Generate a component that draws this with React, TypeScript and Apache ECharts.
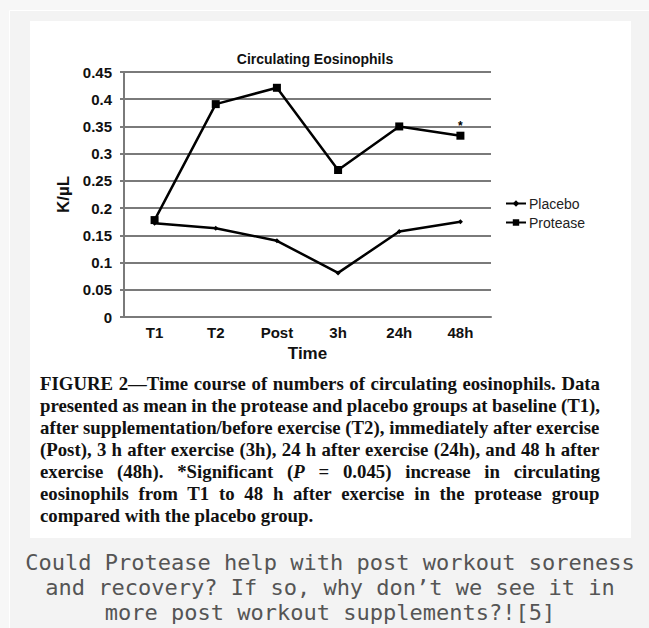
import React, { useEffect, useRef } from "react";
import * as echarts from "echarts";

const categories = ["T1", "T2", "Post", "3h", "24h", "48h"];
const placebo = [0.172, 0.163, 0.14, 0.081, 0.157, 0.175];
const protease = [0.178, 0.391, 0.421, 0.27, 0.35, 0.333];
const yTicks = { min: 0, max: 0.45, interval: 0.05 };

// "{i|...}" marks italic text
const figureLines = [
  "FIGURE 2\u2014Time course of numbers of circulating eosinophils. Data",
  "presented as mean in the protease and placebo groups at baseline (T1),",
  "after supplementation/before exercise (T2), immediately after exercise",
  "(Post), 3 h after exercise (3h), 24 h after exercise (24h), and 48 h after",
  "exercise (48h). *Significant ({i|P} = 0.045) increase in circulating",
  "eosinophils from T1 to 48 h after exercise in the protease group",
  "compared with the placebo group.",
];
const captionLines = [
  "Could Protease help with post workout soreness",
  "and recovery? If so, why don\u2019t we see it in",
  "more post workout supplements?![5]",
];

const FIG_FONT = "Liberation Serif";
const FIG_SIZE = 18.8;
const FIG_LEFT = 40;
const FIG_RIGHT = 600;
const FIG_TOP = 383;
const FIG_LH = 22;

function parseSegments(line: string) {
  const segs: { text: string; italic: boolean }[] = [];
  const re = /\{i\|([^}]*)\}/g;
  let last = 0;
  let m: RegExpExecArray | null;
  while ((m = re.exec(line))) {
    if (m.index > last) segs.push({ text: line.slice(last, m.index), italic: false });
    segs.push({ text: m[1], italic: true });
    last = m.index + m[0].length;
  }
  if (last < line.length) segs.push({ text: line.slice(last), italic: false });
  return segs;
}

export default function App() {
  const ref = useRef<HTMLDivElement>(null);
  useEffect(() => {
    if (!ref.current) return;
    const chart = echarts.init(ref.current, null, { renderer: "svg" });
    const labelFont = "Liberation Sans";

    const canvas = document.createElement("canvas");
    const ctx = canvas.getContext("2d")!;
    const fontStr = (italic: boolean) =>
      `${italic ? "italic " : ""}bold ${FIG_SIZE}px "${FIG_FONT}"`;
    const measure = (t: string, italic: boolean) => {
      ctx.font = fontStr(italic);
      return ctx.measureText(t).width;
    };

    const graphics: any[] = [
      {
        type: "rect",
        z: -10,
        shape: { x: 9.5, y: 10.5, width: 640, height: 620 },
        style: { fill: "#f3f3f3", stroke: "#ffffff", lineWidth: 1 },
        silent: true,
      },
      {
        type: "rect",
        z: -9,
        shape: { x: 30, y: 21, width: 601, height: 517 },
        style: { fill: "#ffffff" },
        silent: true,
      },
    ];

    const spacingMap = new Map<string, number>();
    figureLines.forEach((line, i) => {
      const segs = parseSegments(line);
      const isLast = i === figureLines.length - 1;
      const natural = segs.reduce((s, g) => s + measure(g.text, g.italic), 0);
      const nSpaces = (line.replace(/\{i\|/g, "").match(/ /g) || []).length;
      const ws = isLast || nSpaces === 0 ? 0 : (FIG_RIGHT - FIG_LEFT - natural) / nSpaces;
      let cursor = FIG_LEFT;
      segs.forEach((g) => {
        const lead = g.text.length - g.text.trimStart().length;
        const trail = g.text.length - g.text.trimEnd().length;
        const core = g.text.trim();
        const spaceW = measure(" ", g.italic);
        cursor += lead * (spaceW + ws);
        if (core.length) {
          const inner = (core.match(/ /g) || []).length;
          if (inner > 0 && ws !== 0) spacingMap.set(core, ws);
          graphics.push({
            type: "text",
            x: cursor,
            y: FIG_TOP + i * FIG_LH,
            style: {
              text: core,
              fontFamily: FIG_FONT,
              fontWeight: "bold",
              fontStyle: g.italic ? "italic" : "normal",
              fontSize: FIG_SIZE,
              fill: "#111",
              verticalAlign: "middle",
            },
          });
          cursor += measure(core, g.italic) + inner * ws;
        }
        cursor += trail * (spaceW + ws);
      });
    });

    captionLines.forEach((line, i) => {
      graphics.push({
        type: "text",
        x: 330,
        y: 562 + i * 25,
        style: {
          text: line,
          fontFamily: "DejaVu Sans Mono",
          fontSize: 22,
          fill: "#555",
          align: "center",
          verticalAlign: "middle",
        },
      });
    });

    chart.setOption({
      animation: false,
      backgroundColor: "#f7f7f7",
      title: {
        text: "Circulating Eosinophils",
        left: 310,
        top: 47,
        textAlign: "center",
        textStyle: {
          fontFamily: labelFont,
          fontWeight: "bold",
          fontSize: 14,
          color: "#111",
        },
      },
      legend: {
        orient: "vertical",
        left: 505,
        top: 196,
        itemWidth: 20,
        itemHeight: 8,
        itemGap: 4,
        padding: 0,
        textStyle: { fontFamily: labelFont, fontSize: 14, color: "#222", lineHeight: 15, padding: [0, 0, 0, -2] },
        data: ["Placebo", "Protease"],
      },
      grid: { left: 124, right: 158, top: 72, bottom: 311, containLabel: false },
      xAxis: {
        type: "category",
        data: categories,
        boundaryGap: true,
        name: "Time",
        nameLocation: "middle",
        nameGap: 28,
        nameTextStyle: { fontFamily: labelFont, fontWeight: "bold", fontSize: 17, color: "#111" },
        axisLine: { lineStyle: { color: "#7a7a7a", width: 2 } },
        axisTick: { show: false },
        axisLabel: { fontFamily: labelFont, fontWeight: "bold", fontSize: 15, color: "#111", margin: 8 },
      },
      yAxis: {
        type: "value",
        min: yTicks.min,
        max: yTicks.max,
        interval: yTicks.interval,
        name: "K/\u00b5L",
        nameLocation: "middle",
        nameGap: 52,
        nameTextStyle: { fontFamily: labelFont, fontWeight: "bold", fontSize: 17, color: "#111" },
        axisLine: { show: true, lineStyle: { color: "#7a7a7a", width: 2 } },
        axisTick: { show: true, length: 4, lineStyle: { color: "#7a7a7a", width: 2 } },
        axisLabel: { fontFamily: labelFont, fontWeight: "bold", fontSize: 15, color: "#111", margin: 12 },
        splitLine: { show: true, lineStyle: { color: "#7a7a7a", width: 2 } },
      },
      series: [
        {
          name: "Placebo",
          type: "line",
          data: placebo,
          symbol: "diamond",
          symbolSize: 5,
          itemStyle: { color: "#000" },
          lineStyle: { color: "#000", width: 2.5 },
        },
        {
          name: "Protease",
          type: "line",
          data: protease.map((v, i) =>
            i === protease.length - 1
              ? {
                  value: v,
                  label: {
                    show: true,
                    formatter: "*",
                    position: "top",
                    distance: 0,
                    fontSize: 12,
                    fontWeight: "bold",
                    color: "#000",
                  },
                }
              : v
          ),
          symbol: "rect",
          symbolSize: 8,
          itemStyle: { color: "#000" },
          lineStyle: { color: "#000", width: 2.5 },
        },
      ],
      graphic: graphics,
    });

    const applySpacing = () => {
      if (!ref.current) return;
      ref.current.querySelectorAll("text").forEach((el) => {
        const t = el.textContent || "";
        const ws = spacingMap.get(t);
        if (ws !== undefined) {
          (el as SVGTextElement).style.wordSpacing = `${ws}px`;
          el.setAttribute("word-spacing", `${ws}`);
        }
      });
    };
    applySpacing();
    chart.on("finished", applySpacing);
    const raf = requestAnimationFrame(applySpacing);

    return () => {
      cancelAnimationFrame(raf);
      chart.dispose();
    };
  }, []);
  return (
    <div
      ref={ref}
      style={{ position: "absolute", left: 0, top: 0, width: 649, height: 628 }}
    />
  );
}
